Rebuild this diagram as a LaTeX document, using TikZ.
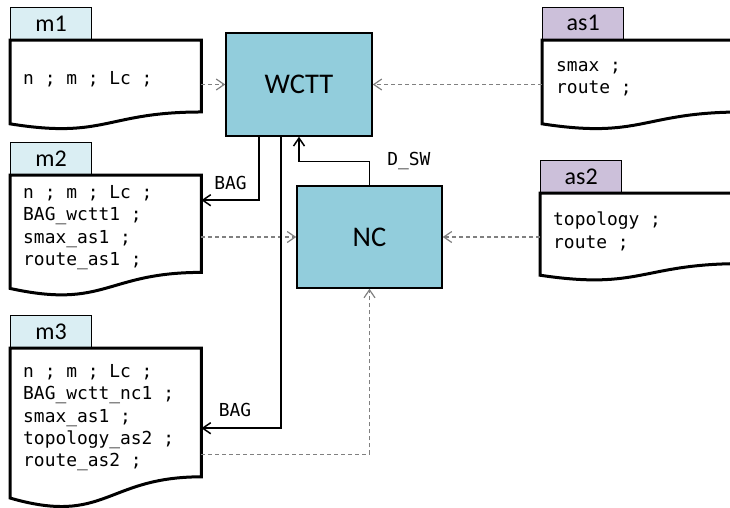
\documentclass[tikz,border=0pt]{standalone}
\usepackage{fontspec}
\setmonofont{DejaVu Sans Mono}
\newfontfamily\labelfont{Carlito}
\usetikzlibrary{arrows.meta,calc,positioning}
\definecolor{boxblue}{RGB}{146,205,220}
\definecolor{tabblue}{RGB}{218,238,243}
\definecolor{tabpurple}{RGB}{204,192,218}
\definecolor{dashgray}{RGB}{128,128,128}
\newcommand{\codefont}{\ttfamily\fontsize{17.9}{22.4}\selectfont}
\begin{document}
\begin{tikzpicture}[x=1pt,y=-1pt,>={Straight Barb[length=8pt,width=11pt]}]

    \useasboundingbox (0,0) rectangle (730,507);

    % Define node styles
    \tikzstyle{process_block} = [draw, line width=1.5pt, fill=boxblue, minimum width=146pt, minimum height=103pt, inner sep=0pt, font=\labelfont\fontsize{28.5}{34}\selectfont]
    \tikzstyle{doc_block} = [anchor=north west, inner sep=0pt]
    \tikzstyle{doc_text} = [inner sep=0pt, align=left, font=\codefont]
    \tikzstyle{tab_m_block} = [draw, line width=1.3pt, fill=tabblue, minimum width=81pt, minimum height=32pt, inner sep=0pt, font=\labelfont\fontsize{24}{28}\selectfont]
    \tikzstyle{tab_as_block} = [draw, line width=1.3pt, fill=tabpurple, minimum width=81pt, minimum height=32pt, inner sep=0pt, font=\labelfont\fontsize{24}{28}\selectfont]
    \tikzstyle{doc_line} = [draw, line width=3pt]
    \tikzstyle{flow_line} = [->, black, line width=1.5pt]
    \tikzstyle{data_line} = [->, dashgray, line width=1.2pt, dash pattern=on 4pt off 3pt]
    \tikzstyle{bag_label} = [inner sep=0pt, font=\codefont]

    % Draw nodes
    \node [doc_block, minimum width=191pt, minimum height=77.5pt] (m1) at (10,40) {};
    \node [doc_block, minimum width=191pt, minimum height=105pt] (m2) at (10,175) {};
    \node [doc_block, minimum width=191pt, minimum height=139pt] (m3) at (10,348) {};
    \node [doc_block, minimum width=200pt, minimum height=77.5pt] (as1) at (542,40) {};
    \node [doc_block, minimum width=202pt, minimum height=76pt] (as2) at (540,193) {};

    \node [doc_text, right=13pt of m1.west] (m1_text) {n ; m ; Lc ;};
    \node [doc_text, right=13pt of m2.west] (m2_text) {n ; m ; Lc ;\\ BAG\_wctt1 ;\\ smax\_as1 ;\\ route\_as1 ;};
    \node [doc_text, right=13pt of m3.west] (m3_text) {n ; m ; Lc ;\\ BAG\_wctt\_nc1 ;\\ smax\_as1 ;\\ topology\_as2 ;\\ route\_as2 ;};
    \node [doc_text, right=14pt of as1.west] (as1_text) {smax ;\\ route ;};
    \node [doc_text, right=13pt of as2.west] (as2_text) {topology ;\\ route ;};

    \node [tab_m_block, above right=0pt and 0pt of m1.north west] (m1_tab) {m1};
    \node [tab_m_block, above right=0pt and 0pt of m2.north west] (m2_tab) {m2};
    \node [tab_m_block, above right=0pt and 0pt of m3.north west] (m3_tab) {m3};
    \node [tab_as_block, above right=0pt and 0pt of as1.north west] (as1_tab) {as1};
    \node [tab_as_block, above right=0pt and 0pt of as2.north west] (as2_tab) {as2};

    \foreach \d in {m1,m2,m3,as1,as2}
        \draw [doc_line] (\d.north west) -- (\d.north east) -- ($(\d.south east)!0.076!(\d.north east)$)
            .. controls ($(\d.south)!0.076!(\d.north)$) and ($(\d.south)!-0.275!(\d.north)$) .. ($(\d.south west)!-0.076!(\d.north west)$) -- cycle;

    \node [process_block] (wctt) at (299,84.5) {WCTT};
    \node [process_block, minimum width=145pt, minimum height=102pt] (nc) at (369.5,237) {NC};

    % Draw arrows
    \draw [data_line] (m1.east |- wctt.west) -- (wctt.west);
    \draw [data_line] (as1.west |- wctt.east) -- (wctt.east);
    \draw [data_line] (m2.east |- nc.west) -- (nc.west);
    \draw [data_line] (as2.west |- nc.east) -- (nc.east);
    \draw [data_line] ([yshift=-36.5pt]m3.east) -| (nc.south);

    \draw [flow_line] ([xshift=-40pt]wctt.south) |- node[bag_label, xshift=-28.5pt, yshift=17pt] {BAG} ([yshift=27.5pt]m2.east);
    \draw [flow_line] ([xshift=-18pt]wctt.south) |- node[bag_label, xshift=-46pt, yshift=18pt] {BAG} ([yshift=-10.5pt]m3.east);
    \draw [flow_line] (nc.north) -- ++(0,-24) node[bag_label, anchor=west, xshift=17pt] {D\_SW} -| (wctt.south);

\end{tikzpicture}
\end{document}
